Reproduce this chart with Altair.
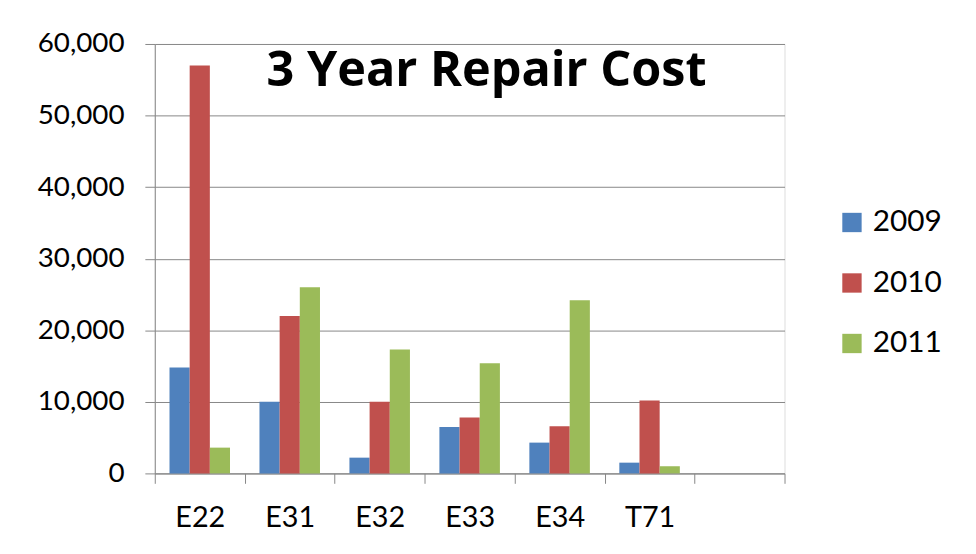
import altair as alt
import pandas as pd

units = ["E22", "E31", "E32", "E33", "E34", "T71"]
blank_slot = [" "]
years = ["2009", "2010", "2011"]
cost_2009 = [14800, 10000, 2200, 6500, 4300, 1500]
cost_2010 = [57000, 22000, 10000, 7800, 6600, 10200]
cost_2011 = [3600, 26000, 17300, 15400, 24200, 1000]
colors = ["#4F81BD", "#C0504D", "#9BBB59"]
y_ticks = [0, 10000, 20000, 30000, 40000, 50000, 60000]

rows = []
for yr, vals in zip(years, [cost_2009, cost_2010, cost_2011]):
    for u, v in zip(units, vals):
        rows.append({"unit": u, "year": yr, "cost": v})
df = pd.DataFrame(rows)

FONT = "Lato"
GRAY = "#878787"

chart = alt.Chart(df).mark_bar().encode(
    x=alt.X(
        "unit:N",
        sort=units + blank_slot,
        scale=alt.Scale(domain=units + blank_slot, paddingInner=0, paddingOuter=0),
        axis=alt.Axis(
            title=None, labelAngle=0, tickBand="extent", tickSize=10,
            tickColor=GRAY, domainColor=GRAY, labelFont=FONT, labelFontSize=29,
            labelColor="black", labelPadding=21, grid=False,
        ),
    ),
    xOffset=alt.XOffset(
        "year:N",
        scale=alt.Scale(domain=years, paddingOuter=0.73, paddingInner=0),
    ),
    y=alt.Y(
        "cost:Q",
        scale=alt.Scale(domain=[0, 60000], nice=False),
        axis=alt.Axis(
            title=None, values=y_ticks, format=",.0f", tickSize=10,
            tickColor=GRAY, domainColor=GRAY, gridColor=GRAY, grid=True,
            labelFont=FONT, labelFontSize=28, labelColor="black", labelPadding=21,
        ),
    ),
    color=alt.Color(
        "year:N",
        scale=alt.Scale(domain=years, range=colors),
        legend=alt.Legend(
            title=None, orient="none", legendX=688, legendY=165,
            symbolType="square", symbolSize=380, symbolStrokeWidth=0,
            labelFont=FONT, labelFontSize=30, labelColor="black",
            labelOffset=6, rowPadding=31,
        ),
    ),
).properties(
    width=635,
    height=433,
    padding={"left": 148, "top": 34, "right": 185, "bottom": 79},
    autosize=alt.AutoSizeParams(type="none"),
    title=alt.TitleParams(
        text="3 Year Repair Cost", font="Open Sans", fontSize=49, fontWeight="bold",
        color="black", anchor="middle", dx=17, offset=-66,
    ),
).configure_view(stroke=None).configure(background="white")

chart.save("out.html", embed_options={"renderer": "svg", "actions": False})
